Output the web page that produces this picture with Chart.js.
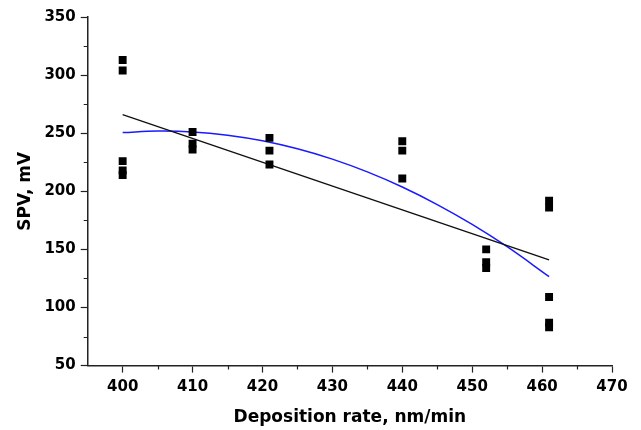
<!DOCTYPE html>
<html>
<head>
<meta charset="utf-8">
<script src="https://cdn.jsdelivr.net/npm/chart.js@4/dist/chart.umd.min.js"></script>
<style>
  html, body { margin: 0; padding: 0; background: #fff; }
  #wrap { width: 641px; height: 430px; position: relative; }
</style>
</head>
<body>
<div id="wrap"><canvas id="spvChart"></canvas></div>
<script>
// SPV vs deposition rate — measured points, linear fit, polynomial fit

// measured points
var rateX = [400, 400, 400, 400, 400, 410, 410, 410, 421, 421, 421, 440, 440, 440, 452, 452, 452, 461, 461, 461, 461, 461];
var spvY  = [313, 304, 226, 218, 214, 251, 241, 236, 246, 235, 223, 243, 235, 211, 150, 139, 134, 192, 186, 109, 87, 83];

// linear fit (black)
var linX = [400, 461];
var linY = [266, 141];

// polynomial fit (blue)
var polyX = [400, 405, 410, 415, 420, 425, 430, 435, 440, 445, 450, 455, 461];
var polyY = [250.5, 251.8, 251.1, 248.3, 243.5, 236.6, 227.7, 216.7, 203.7, 188.6, 171.5, 152.3, 126.6];

// axis ticks
var xMajor = [400, 410, 420, 430, 440, 450, 460, 470];
var xMinor = [405, 415, 425, 435, 445, 455, 465];
var yMajor = [50, 100, 150, 200, 250, 300, 350];
var yMinor = [75, 125, 175, 225, 275, 325];

function pairs(xs, ys) {
  return xs.map(function (x, i) { return { x: x, y: ys[i] }; });
}

var FONT = "'DejaVu Sans', Verdana, sans-serif";

var minorTicks = {
  id: "minorTicks",
  afterDraw: function (chart) {
    var ctx = chart.ctx;
    var xs = chart.scales.x, ys = chart.scales.y;
    ctx.save();
    ctx.strokeStyle = "#222";
    ctx.lineWidth = 1.2;
    ctx.beginPath();
    xMinor.forEach(function (v) {
      var px = Math.round(xs.getPixelForValue(v)) + 0.5;
      ctx.moveTo(px, xs.top);
      ctx.lineTo(px, xs.top + 4);
    });
    yMinor.forEach(function (v) {
      var py = Math.round(ys.getPixelForValue(v)) + 0.5;
      ctx.moveTo(ys.right, py);
      ctx.lineTo(ys.right - 4, py);
    });
    ctx.stroke();
    ctx.restore();
  }
};

var ctx = document.getElementById("spvChart").getContext("2d");
new Chart(ctx, {
  type: "scatter",
  data: {
    datasets: [
      {
        label: "SPV",
        data: pairs(rateX, spvY),
        pointStyle: "rect",
        pointRadius: 5.6,
        pointHoverRadius: 5.6,
        backgroundColor: "#000",
        borderColor: "#000",
        borderWidth: 0,
        showLine: false
      },
      {
        label: "Linear fit",
        data: pairs(linX, linY),
        showLine: true,
        pointRadius: 0,
        borderColor: "#111",
        borderWidth: 1.5,
        fill: false
      },
      {
        label: "Polynomial fit",
        data: pairs(polyX, polyY),
        showLine: true,
        pointRadius: 0,
        tension: 0.4,
        borderColor: "#1a1aff",
        borderWidth: 1.5,
        fill: false
      }
    ]
  },
  options: {
    responsive: true,
    maintainAspectRatio: false,
    animation: false,
    layout: { padding: { left: 15, right: 29, top: 17, bottom: 2 } },
    plugins: {
      legend: { display: false },
      tooltip: { enabled: false }
    },
    scales: {
      x: {
        type: "linear",
        min: 395,
        max: 470,
        afterBuildTicks: function (scale) {
          scale.ticks = xMajor.map(function (v) { return { value: v }; });
        },
        ticks: {
          color: "#000",
          font: { family: FONT, size: 15, weight: "bold" },
          padding: 6,
          maxRotation: 0
        },
        grid: { display: true, drawOnChartArea: false, drawTicks: true, tickLength: 7, tickColor: "#222", tickWidth: 1.2 },
        border: { display: true, color: "#222", width: 1.5 },
        title: {
          display: true,
          text: "Deposition rate, nm/min",
          color: "#000",
          font: { family: FONT, size: 17, weight: "bold" },
          padding: { top: 5, bottom: 0 }
        }
      },
      y: {
        type: "linear",
        min: 50,
        max: 350,
        afterBuildTicks: function (scale) {
          scale.ticks = yMajor.map(function (v) { return { value: v }; });
        },
        ticks: {
          color: "#000",
          font: { family: FONT, size: 15, weight: "bold" },
          padding: 5
        },
        grid: { display: true, drawOnChartArea: false, drawTicks: true, tickLength: 7, tickColor: "#222", tickWidth: 1.2 },
        border: { display: true, color: "#222", width: 1.5 },
        title: {
          display: true,
          text: "SPV, mV",
          color: "#000",
          font: { family: FONT, size: 17, weight: "bold" },
          padding: { top: 0, bottom: 4 }
        }
      }
    }
  },
  plugins: [minorTicks]
});
</script>
</body>
</html>
